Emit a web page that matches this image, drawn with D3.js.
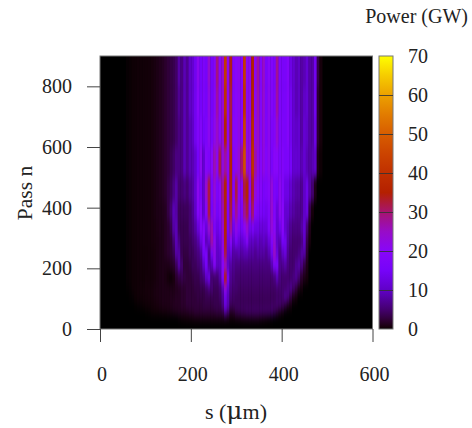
<!DOCTYPE html>
<html><head><meta charset="utf-8">
<script src="https://cdn.jsdelivr.net/npm/d3@7"></script>
<style>
html,body{margin:0;padding:0;background:#fff;overflow:hidden}
text{font-family:"Liberation Serif","Times New Roman",serif;fill:#222}
</style></head><body>
<svg id="c" width="472" height="428"></svg>
<script>
// Column centres run from s = 60 µm in steps of 6 µm; everything outside is 0 GW.
const sStart = 60, sStep = 6;
const passEdges = [900,800,700,600,500,420,360,310,270,230,190,150,120,90,65,45,25];
const xTicks = [0,200,400,600];
const yTicks = [0,200,400,600,800];
const powerTicks = [0,10,20,30,40,50,60,70];
const paletteValues = [0,0.2,0.5,1,2,3,5,10,15,20,25,30,35,40,45,50,55,60,65,70];
const paletteColors = ["#000000","#0e0005","#16000b","#1e0017","#2b002d","#340044","#44006f","#6001c7","#7603f9","#8806f9","#980cc7","#a7146f","#b42000","#c03000","#cc4400","#d75d00","#e27c00","#eca100","#f6cc00","#ffff00"];
const powerRows = [
[.1,.15,.2,.25,.3,.3,.35,.35,.4,.5,.7,.9, 1.2,1.5,2,2.5,3,3.5,4.5,8,6,9,7,10, 11,14,21,15,17,15,24,15,18,29,20,24, 42,21,34,19,20,21,19,42,21,21,35,21, 27,18,25,16,20,18,16,28,17,16,16,19, 13,11,9,10,8,9,11,8,8,14,3,0.5],
[.1,.15,.2,.25,.3,.3,.35,.35,.4,.5,.7,.9, 1.2,1.5,2,2.5,3,3.5,4.5,7,6,9,7,10, 11,14,20,15,17,15,22,15,19,27,20,24, 40,21,32,19,20,21,19,40,21,21,36,21, 26,18,24,16,21,18,17,27,17,16,16,19, 14,11,9,10,8,10,11,8,8,14,2,0.5],
[.1,.15,.2,.25,.3,.3,.35,.35,.4,.5,.7,.9, 1.2,1.5,2,2.5,3,3.5,4.5,6,6,9,7,9, 10,14,18,18,15,16,21,16,21,25,20,24, 36,21,33,20,20,22,19,44,22,22,38,22, 25,18,23,17,21,17,18,24,17,17,16,19, 14,11,10,11,8,11,10,8,8,13,2,0.5],
[.1,.15,.2,.25,.3,.3,.35,.35,.4,.5,.7,.9, 1.2,1.5,2,2.5,3.5,4.5,6,6,6,9,7,9, 9,11,15,21,11,19,17,20,26,21,32,23, 27,21,36,19,21,24,30,47,23,23,40,27, 22,19,22,18,21,16,20,20,17,18,16,17, 15,11,11,11,9,11,9,8,9,10,0.8,0.2],
[.1,.15,.2,.25,.3,.3,.35,.35,.4,.5,.7,.9, 1.2,1.5,2,3,4,6,8,5,5,6,5,7, 8,11,21,15,11,24,32,16,23,17,20,28, 36,19,34,19,32,21,19,32,36,21,33,23, 20,19,16,17,19,23,17,15,21,18,13,13, 11,9,8,8,7,10,13,8,5,1,0,0],
[.1,.15,.2,.25,.3,.3,.35,.35,.4,.5,.7,.9, 1,1.2,1.5,3,5,9,8,4,4,4,4,5, 7,10,19,19,11,19,32,15,22,15,19,26, 34,17,32,19,28,21,17,28,32,19,30,19, 17,16,15,14,17,24,18,12,21,20,11,11, 9,8,7,7,7,10,12,3,0.5,0,0,0],
[.1,.15,.2,.25,.3,.3,.35,.35,.4,.5,.6,.8, 1,1,1.5,2,3.5,8,9,4,3.5,3.5,3.5,5, 6,8,12,19,19,12,24,26,16,13,15,24, 36,15,28,14,22,17,15,20,24,14,16,13, 13,12,12,12,17,23,20,11,14,20,11,9, 7,6,6,6,8,11,5,1,0,0,0,0],
[.1,.15,.2,.25,.3,.3,.35,.35,.4,.5,.6,.7, .9,1,1.5,2,2.5,5,9,6,3.5,3.5,3.5,4, 5,6,8,13,19,9,12,27,21,11,13,22, 34,13,19,11,15,12,11,13,18,10,10,9, 10,9,10,9,12,18,23,10,9,15,14,8, 6,5,5,5,6,10,3,0.5,0,0,0,0],
[.1,.15,.2,.25,.3,.3,.3,.3,.4,.4,.5,.7, .9,1,1.5,2,2.5,3.5,8,8,3.5,3,3,4, 4,5,6,8,15,16,7,15,22,10,11,21, 32,11,12,8,8,9,8,9,9,8,8,7, 8,8,8,7,9,14,25,12,7,10,12,7, 5,5,5,6,8,8,2,0,0,0,0,0],
[.1,.15,.2,.25,.3,.3,.3,.3,.4,.4,.5,.7, .9,1,1,1,1.5,2,4,8,5,2.5,2.5,3, 4,4,5,6,10,15,8,9,18,10,10,20, 24,10,8,7,6,6,6,6,6,6,6,6, 6,6,6,6,6,9,16,17,7,7,8,6, 5,5,7,8,6,3,1,0,0,0,0,0],
[.1,.15,.2,.25,.3,.3,.3,.4,.4,.4,.5,.7, .9,1,.8,.4,.2,.6,2,3,3.5,3,2.5,2.5, 3,3.5,3.5,5,6,10,13,5,5,5,8,18, 34,15,7,6,5,5,5,5,5,5,5,5, 5,5,5,5,5,5,6,9,6,5,5,5, 5,6,7,5,2,1,0.5,0,0,0,0,0],
[.05,.1,.2,.25,.3,.4,.4,.5,.5,.5,.7,.8, .9,1,1,1,1,1,1.2,1.5,2,2,2.5,2.5, 2.5,3,3,3.5,3.5,4.5,6,5.5,4,4,5,9, 22,11,6,5,5,4.5,4.5,4.5,4.5,4.5,4.5,4.5, 4.5,4.5,4.5,4.5,4.5,4.5,4.5,5,5,5,5,6, 7,5,3,1,0.5,0,0,0,0,0,0,0],
[0,.05,.1,.2,.3,.3,.4,.4,.5,.5,.7,.8, .9,1,1,1,1.2,1.2,1.5,1.5,2,2,2.5,2.5, 2.5,2.5,3,3,3,3.5,3.5,3.5,3.5,3.5,4.5,7, 13,9,5,4.5,4,4,4,4,4,4,4,4, 4,4,4,4,4,4,4,4.5,4.5,5,7,6, 3,1,0.5,0,0,0,0,0,0,0,0,0],
[0,0,0,.05,.1,.15,.2,.3,.3,.4,.5,.6, .8,1,1,1,1.2,1.5,1.5,1.5,2,2,2.5,2.5, 2.5,2.5,2.5,2.5,3,3,3,3,3.5,3.5,3.5,6, 12,9,4,4,4,4,4,4,4,4,4,4, 4,4,4,4,4,4.5,4.5,5,5,4,2.5,1, 0.5,0,0,0,0,0,0,0,0,0,0,0],
[0,0,0,0,0,0,0,.05,.1,.2,.3,.3, .4,.5,.5,.7,.8,1,1.2,1.5,1.5,1.5,1.5,2, 2,2.5,2.5,2.5,2.5,2.5,2.5,2.5,2.5,3,3,3.5, 8,5,1.5,2,3.5,4,4.5,4.5,5,5,5,5, 5,5,5,5,5,5,4,2.5,1,0.4,0,0, 0,0,0,0,0,0,0,0,0,0,0,0],
[0,0,0,0,0,0,0,0,0,0,0,0, 0,0,0,0,0,0,0,0.1,0.2,0.3,0.4,0.4, 0.5,0.6,0.6,0.8,0.8,0.8,0.8,0.8,0.8,0.8,0.8,0.8, 0.8,0.6,0.4,0.4,0.5,0.6,0.8,1,1,1.1,1.1,1.1, 1.1,0.8,0.6,0.4,0.2,0.1,0,0,0,0,0,0, 0,0,0,0,0,0,0,0,0,0,0,0]
];

const L=100,R=372.5,T=56,B=329, barL=379, barR=393;
const x=d3.scaleLinear().domain([0,600]).range([L,R]);
const y=d3.scaleLinear().domain([0,900]).range([B,T]);
const p=d3.scaleLinear().domain([0,70]).range([B,T]);
const color=d3.scaleLinear().domain(paletteValues).range(paletteColors).clamp(true);
const svg=d3.select("#c");
const defs=svg.append("defs");
defs.append("clipPath").attr("id","plotClip").append("rect")
  .attr("x",L).attr("y",T).attr("width",R-L).attr("height",B-T);
defs.append("filter").attr("id","soft").attr("filterUnits","userSpaceOnUse")
  .attr("x",L-20).attr("y",T-40).attr("width",R-L+40).attr("height",B-T+80)
  .attr("color-interpolation-filters","sRGB")
  .append("feGaussianBlur").attr("stdDeviation","0.55 4");
const grad=defs.append("linearGradient").attr("id","barGrad").attr("x1",0).attr("x2",0).attr("y1",1).attr("y2",0);
paletteValues.forEach((v,i)=>grad.append("stop").attr("offset",v/70).attr("stop-color",paletteColors[i]));

svg.append("rect").attr("x",L).attr("y",T).attr("width",R-L).attr("height",B-T).attr("fill","#000");
const heat=svg.append("g").attr("clip-path","url(#plotClip)").append("g").attr("filter","url(#soft)");
powerRows.forEach((row,r)=>{
  heat.append("g").selectAll("rect").data(row).join("rect")
    .attr("x",(d,i)=>x(sStart+i*sStep-sStep/2))
    .attr("width",x(sStep)-x(0)+0.4)
    .attr("y",y(r===0?passEdges[0]+100:passEdges[r]))
    .attr("height",y(passEdges[r+1])-y(r===0?passEdges[0]+100:passEdges[r])+0.4)
    .attr("fill",d=>color(d));
});
svg.append("rect").attr("x",L).attr("y",T).attr("width",R-L).attr("height",B-T)
  .attr("fill","none").attr("stroke","#777").attr("stroke-width",1);

const style=(g)=>{g.select(".domain").remove();g.selectAll("line").attr("stroke","#444").attr("stroke-width",1);};
const xAxis=svg.append("g").attr("transform",`translate(0,${B})`)
  .call(d3.axisBottom(x).tickValues(xTicks).tickSize(13).tickPadding(0).tickFormat(d3.format("d"))).call(style);
xAxis.selectAll("text").attr("font-size",20).attr("y",0).attr("dy",0)
  .attr("transform","translate(1.5,52)").attr("text-anchor","middle").attr("fill","#222");
const yAxis=svg.append("g").attr("transform",`translate(${L},0)`)
  .call(d3.axisLeft(y).tickValues(yTicks).tickSize(13).tickPadding(15).tickFormat(d3.format("d"))).call(style);
yAxis.selectAll("text").attr("font-size",20).attr("fill","#222");

// colour bar
svg.append("rect").attr("x",barL).attr("y",T).attr("width",barR-barL).attr("height",B-T)
  .attr("fill","url(#barGrad)").attr("stroke","#777").attr("stroke-width",1);
const barAxis=svg.append("g").attr("transform",`translate(${barR},0)`)
  .call(d3.axisRight(p).tickValues(powerTicks).tickSize(-(barR-barL)).tickPadding(15).tickFormat(d3.format("d"))).call(style);
barAxis.selectAll("line").attr("stroke","#333").attr("opacity",d=>(d===0||d===70)?0:0.85);
barAxis.selectAll("text").attr("font-size",20).attr("fill","#222");

svg.append("text").attr("x",468).attr("y",23).attr("text-anchor","end").attr("font-size",20).text("Power (GW)");
const xl=svg.append("text").attr("x",236).attr("y",419).attr("text-anchor","middle").attr("font-size",22);
xl.append("tspan").text("s (");
xl.append("tspan").attr("font-size",25).attr("font-family","DejaVu Serif").text("μ");
xl.append("tspan").text("m)");
svg.append("text").attr("transform","translate(32,193) rotate(-90)").attr("text-anchor","middle").attr("font-size",21.5).text("Pass n");
</script>
</body></html>
